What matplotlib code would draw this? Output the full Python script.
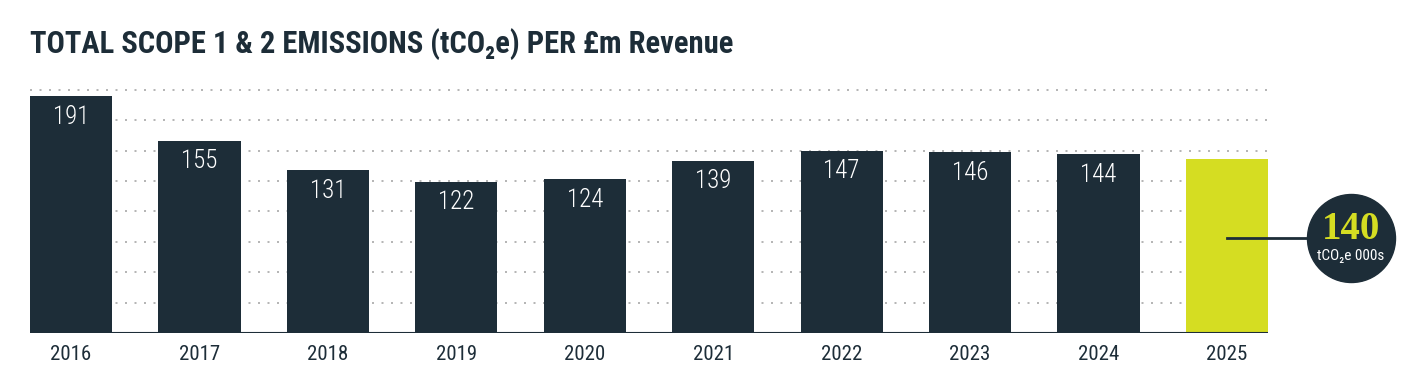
import matplotlib
matplotlib.use('Agg')
import matplotlib.pyplot as plt
from matplotlib import font_manager

# 字体: 优先窄体, 找不到就退回 DejaVu Sans
_names = set(f.name for f in font_manager.fontManager.ttflist)


def pick(cands):
    for c in cands:
        if c in _names:
            return [c, 'DejaVu Sans']
    return ['DejaVu Sans']


NARROW = pick(['Roboto Condensed', 'Archivo Narrow', 'Asap Condensed', 'Liberation Sans Narrow'])
SERIF = pick(['Liberation Serif', 'DejaVu Serif'])
plt.rcParams['font.family'] = NARROW

# 数据
years = ['2016', '2017', '2018', '2019', '2020', '2021', '2022', '2023', '2024', '2025']
values = [191, 155, 131, 122, 124, 139, 147, 146, 144, 140]
labels = ['191', '155', '131', '122', '124', '139', '147', '146', '144', '']
grid_levels = [24.5, 49, 73.5, 98, 122.5, 147, 171.5, 196]
highlight_value = '140'
highlight_unit = 'tCO₂e 000s'
title = 'TOTAL SCOPE 1 & 2 EMISSIONS (tCO₂e) PER £m Revenue'

DARK = '#1d2d38'
LIME = '#d5dd22'

W, H = 1427, 380
fig = plt.figure(figsize=(W / 100, H / 100), dpi=100)
ax = fig.add_axes([30 / W, (H - 333) / H, (1268 - 30) / W, (333 - 80) / H])

colors = [DARK] * (len(years) - 1) + [LIME]
x = list(range(len(years)))
ax.bar(x, values, width=0.64, color=colors, zorder=3)

ax.set_xlim(-0.32, len(years) - 1 + 0.32)
ax.set_ylim(0, 253 / 1.241)

for lv in grid_levels:
    ax.axhline(lv, color='#a8a8a8', linestyle=(0, (1.2, 4.5)), linewidth=1.2, zorder=1)
ax.axhline(0, color=DARK, linewidth=1.5, zorder=4)

for xi, v, lab in zip(x, values, labels):
    if lab:
        ax.text(xi, v - 7, lab, ha='center', va='top', color='white',
                fontsize=18, fontweight='light', zorder=5)

ax.set_xticks(x)
ax.set_xticklabels(years, fontsize=15, color=DARK)
ax.tick_params(axis='x', length=0, pad=9)
ax.set_yticks([])
for s in ax.spines.values():
    s.set_visible(False)

# 2025 标注圆
cx, cy = 9.966, 76.5
ax.plot([9, cx], [cy, cy], color=DARK, linewidth=2, zorder=5, clip_on=False)
ax.scatter([cx], [cy], s=88 ** 2 * 0.5184, color=DARK, zorder=6, clip_on=False)
ax.text(cx, cy + 6.5, highlight_value, ha='center', va='center', color=LIME,
        fontsize=28, fontweight='bold', family=SERIF, zorder=7)
ax.text(cx, cy - 14.5, highlight_unit, ha='center', va='center', color='white',
        fontsize=11, zorder=7)

fig.text(30 / W, 1 - 44 / H, title, ha='left', va='center', color=DARK,
         fontsize=22, fontweight='bold')

fig.savefig('out.png', dpi=100)
